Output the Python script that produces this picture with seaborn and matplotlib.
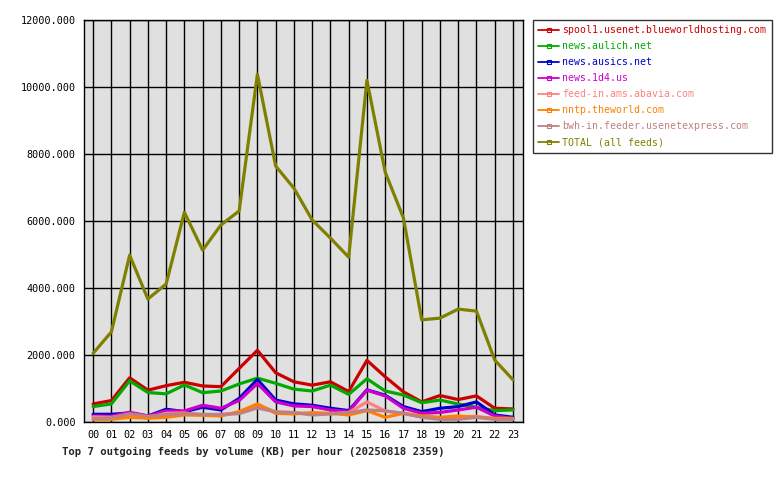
import numpy as np
import pandas as pd
import seaborn as sns
import matplotlib.pyplot as plt
from matplotlib.lines import Line2D

hours = [f"{h:02d}" for h in range(24)]

feeds = [
    "spool1.usenet.blueworldhosting.com",
    "news.aulich.net",
    "news.ausics.net",
    "news.1d4.us",
    "feed-in.ams.abavia.com",
    "nntp.theworld.com",
    "bwh-in.feeder.usenetexpress.com",
    "TOTAL (all feeds)",
]
colors = ["#cc0000", "#00aa00", "#0000cc", "#cc00cc",
          "#ff8080", "#ff8000", "#c08080", "#808000"]

spool1 = [540, 640, 1320, 950, 1085, 1185, 1075, 1055, 1600, 2140, 1470, 1200,
          1100, 1200, 910, 1840, 1350, 900, 600, 790, 670, 780, 410, 390]
aulich = [460, 540, 1230, 880, 840, 1105, 875, 925, 1135, 1310, 1155, 980,
          925, 1100, 825, 1290, 925, 805, 575, 655, 535, 440, 340, 360]
ausics = [230, 230, 270, 180, 380, 310, 440, 360, 705, 1270, 655, 540,
          500, 410, 340, 960, 800, 460, 310, 410, 460, 600, 210, 140]
d4 = [180, 170, 290, 180, 330, 330, 500, 410, 640, 1150, 600, 480,
      460, 360, 310, 950, 780, 410, 260, 285, 360, 440, 180, 100]
abavia = [150, 140, 220, 130, 260, 270, 210, 230, 270, 520, 300, 280,
          240, 250, 280, 600, 330, 250, 160, 120, 150, 170, 100, 90]
theworld = [80, 80, 140, 110, 140, 210, 200, 180, 310, 540, 260, 240,
            280, 260, 210, 340, 140, 260, 180, 140, 180, 140, 110, 110]
bwh = [100, 120, 250, 170, 220, 250, 230, 220, 250, 420, 300, 280,
       210, 240, 280, 360, 330, 260, 140, 80, 80, 140, 80, 80]
total = [2050, 2690, 4980, 3670, 4120, 6260, 5130, 5880, 6300, 10380, 7640, 6980,
         6030, 5490, 4920, 10200, 7460, 6090, 3050, 3100, 3370, 3310, 1850, 1260]

series = [spool1, aulich, ausics, d4, abavia, theworld, bwh, total]

rows = []
for name, vals in zip(feeds, series):
    for h, v in enumerate(vals):
        rows.append({"hour": h, "kb": v, "feed": name})
df = pd.DataFrame(rows)

sns.set_style("white")
plt.rcParams["font.family"] = ["DejaVu Sans Mono", "DejaVu Sans"]

fig = plt.figure(figsize=(7.8, 4.8), dpi=100)
ax = fig.add_axes([84 / 780, 1 - 422 / 480, (523 - 84) / 780, (422 - 20) / 480])
ax.set_facecolor("#e0e0e0")
ax.set_axisbelow(True)

sns.lineplot(data=df, x="hour", y="kb", hue="feed", hue_order=feeds,
             palette=colors, linewidth=2.3, legend=False, ax=ax)

ax.set_xlim(-0.5, 23.55)
ax.set_ylim(0, 12000)
ax.set_xticks(range(24))
ax.set_xticklabels(hours)
ax.set_yticks(np.arange(0, 12001, 2000))
ax.set_yticklabels([f"{v:.3f}" for v in np.arange(0, 12001, 2000)])
ax.tick_params(axis="both", direction="out", length=4, width=1, color="black",
               labelsize=7.3, labelcolor="black", pad=2)
ax.grid(True, color="black", linewidth=1)
for s in ax.spines.values():
    s.set_color("black")
    s.set_linewidth(1)
ax.set_xlabel("")
ax.set_ylabel("")

fig.text(62 / 780, 1 - 452 / 480,
         "Top 7 outgoing feeds by volume (KB) per hour (20250818 2359)",
         fontsize=7.7, fontweight="bold", ha="left", va="center")

# legend with coloured labels
handles = [Line2D([0], [0], color=c, linewidth=1.3, marker="s", markersize=3,
                  markerfacecolor="none", markeredgewidth=0.8) for c in colors]
leg = fig.legend(handles, feeds, loc="upper left",
                 bbox_to_anchor=(533 / 780, 1 - 20 / 480),
                 fontsize=7.15, frameon=True, fancybox=False,
                 handlelength=2.1, handletextpad=0.3, labelspacing=0.6,
                 borderpad=0.55, borderaxespad=0)
leg.get_frame().set_edgecolor("black")
leg.get_frame().set_linewidth(1)
for txt, c in zip(leg.get_texts(), colors):
    txt.set_color(c)

fig.savefig("out.png", dpi=100)
